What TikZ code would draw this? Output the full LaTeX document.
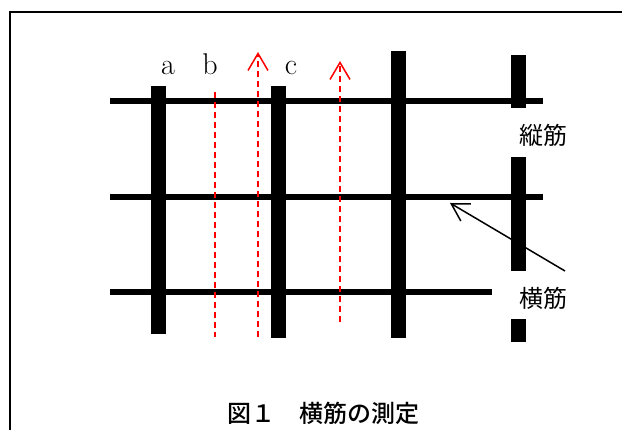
\documentclass[tikz,border=0pt]{standalone}
\usepackage{fontspec}
\usepackage{tikz}
\usetikzlibrary{arrows.meta}
\newfontfamily\jpfont{Noto Sans CJK JP}
\newfontfamily\capfont{Noto Sans CJK JP}[UprightFont=* Medium]
\tikzset{
	hbar/.style={line width=6pt},
	vbar/.style={line width=15pt},
	rline/.style={red,line width=1.5pt,dash pattern=on 6pt off 4pt},
	rarr/.style={rline,-{Straight Barb[length=17pt,width=20pt,line width=1.5pt]}},
	barb/.style={line width=1.5pt,-{Straight Barb[length=17pt,width=20pt,line width=1.5pt]}},
	lbl/.style={inner sep=0pt,anchor=base,font=\fontsize{30}{34}\selectfont},
	jlbl/.style={inner sep=0pt,font=\jpfont\fontsize{24}{28}\selectfont}
}
\begin{document}
\begin{tikzpicture}[x=1pt,y=-1pt]
						\useasboundingbox (0,0) rectangle (622,430);
						\draw [line width=2pt] (10,430) -- (10,12) -- (622,12);
						
						\draw [hbar] (110,101) -- (543,101);
						\draw [hbar] (110,197) -- (543,197);
						\draw [hbar] (110,292) -- (492,292);
						\draw [vbar] (158,86) -- (158,334);
						\draw [vbar] (278,86) -- (278,338);
						\draw [vbar] (398,51) -- (398,338);
						\draw [vbar] (518,55) -- (518,108);
						\draw [vbar] (518,157) -- (518,271);
						\draw [vbar] (518,319) -- (518,342);
						
						\draw [rline] (215,92) -- (215,337);
						\draw [rarr] (258,337) -- (258,52);
						\draw [rarr] (340,322) -- (340,61);
						
						\node [lbl] (a) at (168,75) {a};
						\node [lbl] (b) at (210,75) {b};
						\node [lbl] (c) at (291,75) {c};
						\node [jlbl] (tate) at (543,135) {縦筋};
						\node [jlbl] (yoko) at (543,298) {横筋};
						\node [jlbl,font=\capfont\fontsize{24}{28}\selectfont] (cap) at (323,413) {図１　横筋の測定};
						
						\coordinate (p) at (565,271);
						\coordinate (q) at (450,203);
						\draw [barb] (p) -- (q);
\end{tikzpicture}
\end{document}
